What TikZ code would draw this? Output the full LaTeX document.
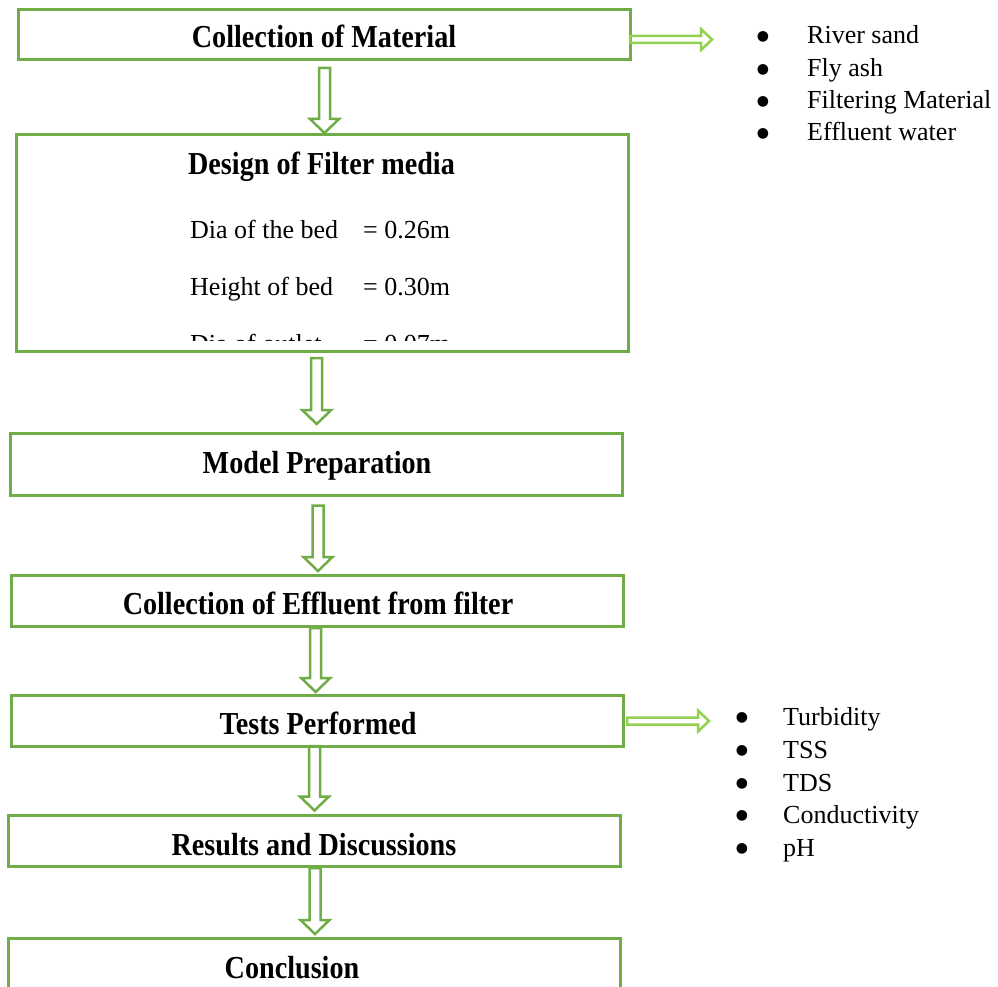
\documentclass[tikz,border=0pt]{standalone}
\usepackage{fontspec}
\setmainfont{Liberation Serif}
\newfontfamily\titlefont{Liberation Serif}[FakeStretch=0.88]
\newfontfamily\bulletfont{DejaVu Sans}
\usetikzlibrary{calc}
\definecolor{boxgreen}{HTML}{70AD47}
\definecolor{arrgreen}{HTML}{92D050}
\tikzset{
  stepbox/.style={draw=boxgreen, line width=3pt, minimum width=612pt, inner sep=0pt, outer sep=0pt},
  titletext/.style={font=\titlefont\bfseries\fontsize{32}{38}\selectfont, anchor=base, inner sep=0pt},
  bodytext/.style={font=\fontsize{26}{31}\selectfont, anchor=base west, inner sep=0pt},
  bullettext/.style={font=\bulletfont\fontsize{14}{16}\selectfont, anchor=center, inner sep=0pt},
  downarr/.style={draw=boxgreen, line width=2.5pt, line join=miter},
  sidearr/.style={draw=arrgreen, line width=2.5pt, line join=miter},
}
% vertical hollow block arrow: #1 start coord, #2 tip coord
\newcommand{\vblockarrow}[2]{%
  \draw[downarr] let \p1=(#1), \p2=(#2) in
    (\x1-5.5pt,\y1) -- (\x1+5.5pt,\y1) -- (\x1+5.5pt,\y2+14pt) -- (\x1+14.5pt,\y2+14pt)
    -- (\x1,\y2) -- (\x1-14.5pt,\y2+14pt) -- (\x1-5.5pt,\y2+14pt) -- cycle;}
% horizontal hollow block arrow: #1 start coord, #2 tip coord
\newcommand{\hblockarrow}[2]{%
  \draw[sidearr] let \p1=(#1), \p2=(#2) in
    (\x1,\y2+3.5pt) -- (\x2-11pt,\y2+3.5pt) -- (\x2-11pt,\y2+10.5pt) -- (\x2,\y2)
    -- (\x2-11pt,\y2-10.5pt) -- (\x2-11pt,\y2-3.5pt) -- (\x1,\y2-3.5pt) -- cycle;}
\begin{document}
\begin{tikzpicture}[x=1pt,y=-1pt]
\clip (0,0) rectangle (998,987);
\fill[white] (0,0) rectangle (998,987);

% boxes
\node[stepbox, minimum height=50pt] (b1) at (324,35) {};
\node[stepbox, minimum height=216pt] (b2) at (322,243) {};
\node[stepbox, minimum height=62pt] (b3) at (316,464) {};
\node[stepbox, minimum height=51pt] (b4) at (317,600.5) {};
\node[stepbox, minimum height=51pt] (b5) at (317,720.5) {};
\node[stepbox, minimum height=51pt] (b6) at (314,840.5) {};
\node[stepbox, minimum height=62pt] (b7) at (314,969) {};

% titles
\node[titletext] (t1) at (324,48) {Collection of Material};
\node[titletext] (t2) at (321.5,175) {Design of Filter media};
\node[titletext] (t3) at (317,473) {Model Preparation};
\node[titletext] (t4) at (318,614) {Collection of Effluent from filter};
\node[titletext] (t5) at (318,734) {Tests Performed};
\node[titletext] (t6) at (314,855) {Results and Discussions};
\node[titletext] (t7) at (292,978) {Conclusion};

% design details
\node[bodytext] (d1) at (190,238) {Dia of the bed};
\node[bodytext] (v1) at (363,238) {= 0.26m};
\node[bodytext] (d2) at (190,295) {Height of bed};
\node[bodytext] (v2) at (363,295) {= 0.30m};
\begin{scope}
  \clip (18,300) rectangle (626,340);
  \node[bodytext] (d3) at (190,352) {Dia of outlet};
  \node[bodytext] (v3) at (363,352) {= 0.07m};
\end{scope}

% down arrows
\coordinate (a1s) at ($(b1.south)+(0.5,8)$);    \coordinate (a1e) at ($(b2.north)+(2.5,-2)$);
\coordinate (a2s) at ($(b2.south)+(-5.3,7)$);   \coordinate (a2e) at ($(b3.north)+(0.7,-9)$);
\coordinate (a3s) at ($(b3.south)+(2,10.5)$);   \coordinate (a3e) at ($(b4.north)+(1,-4)$);
\coordinate (a4s) at ($(b4.south)+(-1.3,2)$);   \coordinate (a4e) at ($(b5.north)+(-1.3,-3)$);
\coordinate (a5s) at ($(b5.south)+(-2.5,0)$);   \coordinate (a5e) at ($(b6.north)+(0.5,-4.5)$);
\coordinate (a6s) at ($(b6.south)+(1,2)$);      \coordinate (a6e) at ($(b7.north)+(1,-4)$);
\vblockarrow{a1s}{a1e}
\vblockarrow{a2s}{a2e}
\vblockarrow{a3s}{a3e}
\vblockarrow{a4s}{a4e}
\vblockarrow{a5s}{a5e}
\vblockarrow{a6s}{a6e}

% side arrows
\coordinate (r1s) at (b1.east);  \coordinate (r1e) at (712,39.5);
\coordinate (r2s) at ($(b5.east)+(4,0)$);  \coordinate (r2e) at (709,721);
\hblockarrow{r1s}{r1e}
\hblockarrow{r2s}{r2e}

% list 1
\node[bullettext] (p1) at (763,36.5) {●};
\node[bodytext] (m1) at (807,44) {River sand};
\node[bullettext] (p2) at (763,69.5) {●};
\node[bodytext] (m2) at (807,77) {Fly ash};
\node[bullettext] (p3) at (763,101.5) {●};
\node[bodytext] (m3) at (807,109) {Filtering Material};
\node[bullettext] (p4) at (763,133.5) {●};
\node[bodytext] (m4) at (807,141) {Effluent water};

% list 2
\node[bullettext] (q1) at (742,717.5) {●};
\node[bodytext] (n1) at (783,725) {Turbidity};
\node[bullettext] (q2) at (742,750.5) {●};
\node[bodytext] (n2) at (783,758) {TSS};
\node[bullettext] (q3) at (742,783.5) {●};
\node[bodytext] (n3) at (783,791) {TDS};
\node[bullettext] (q4) at (742,815.5) {●};
\node[bodytext] (n4) at (783,823) {Conductivity};
\node[bullettext] (q5) at (742,848.5) {●};
\node[bodytext] (n5) at (783,856) {pH};
\end{tikzpicture}
\end{document}
